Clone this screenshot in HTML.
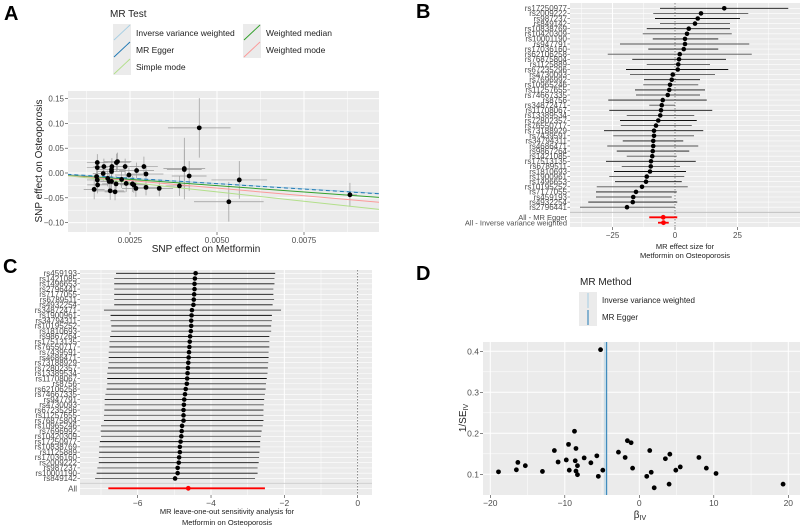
<!DOCTYPE html>
<html><head><meta charset="utf-8"><style>
html,body{margin:0;padding:0;background:#fff;}
svg{display:block;font-family:"Liberation Sans",sans-serif;}
</style></head><body>
<svg id="fig" width="800" height="527" viewBox="0 0 800 527" xmlns="http://www.w3.org/2000/svg"></svg>
<script>
// ---- Panel A data ----
const aX=[0.00156,0.00156,0.00154,0.00156,0.00157,0.00147,0.00175,0.00173,0.00186,0.00197,0.00197,0.00198,0.0019,0.00193,0.00197,0.00211,0.00214,0.00207,0.0021,0.00226,0.00236,0.00239,0.00247,0.00257,0.00261,0.00267,0.00269,0.0029,0.00296,0.00296,0.00334,0.00392,0.00406,0.00406,0.0042,0.00449,0.00534,0.00564,0.00882];
const aY=[0.021,0.011,-0.007,-0.014,-0.024,-0.033,0.013,-0.001,-0.011,0.007,0.003,0.013,-0.017,-0.036,-0.017,0.021,0.023,-0.038,-0.022,-0.013,0.013,-0.021,-0.004,-0.022,-0.024,-0.031,0.005,0.013,-0.002,-0.029,-0.031,-0.026,0.009,0.007,-0.006,0.091,-0.058,-0.014,-0.044];
const aSeX=[0.0003,0.0003,0.0003,0.0003,0.0003,0.0003,0.0003,0.0003,0.0004,0.0004,0.0004,0.0004,0.0003,0.0004,0.0003,0.0004,0.0004,0.0003,0.0004,0.0004,0.0004,0.0004,0.0004,0.0004,0.0004,0.0004,0.0005,0.0004,0.0005,0.0004,0.0004,0.0004,0.0006,0.0005,0.0005,0.0009,0.001,0.0008,0.0002];
const aSeY=[0.017,0.016,0.015,0.016,0.017,0.02,0.016,0.015,0.016,0.017,0.015,0.017,0.016,0.018,0.015,0.018,0.018,0.017,0.016,0.017,0.016,0.017,0.015,0.016,0.016,0.017,0.016,0.02,0.017,0.016,0.016,0.02,0.062,0.04,0.03,0.06,0.04,0.038,0.024];
const aMethods=["Inverse variance weighted","MR Egger","Simple mode","Weighted median","Weighted mode"];
const aSlopes=[-4.25,-4.4,-7.6,-5.1,-6.1];
const aIntercepts=[0,0.0005,0,0,0];
const aColors=["#A6CEE3","#1F78B4","#B2DF8A","#33A02C","#FB9A99"];
const aXTicks=[0.0025,0.005,0.0075];
const aXTickLabels=["0.0025","0.0050","0.0075"];
const aYTicks=[-0.1,-0.05,0,0.05,0.1,0.15];
const aYTickLabels=["-0.10","-0.05","0.00","0.05","0.10","0.15"];

// ---- Panel B data ----
const bLabels=["rs17250977","rs2009222","rs987237","rs849142","rs10838769","rs10420309","rs10001190","rs947791","rs17036160","rs62106258","rs76875804","rs1125889","rs67235296","rs4730093","rs7696992","rs10965246","rs11257655","rs74667335","rs8756","rs34872471","rs11708067","rs13389534","rs72802357","rs76550717","rs73188929","rs7439591","rs34794311","rs4686471","rs9867264","rs1421085","rs17513135","rs6789511","rs1810693","rs1900961","rs1496653","rs10195252","rs7177055","rs459193","rs4932254","rs2796441"];
const bEst=[19.7,10.4,9.1,8,5.5,4.8,4,4,3.5,1.9,1.6,1.3,1.1,-0.9,-1.3,-2,-2.3,-2.9,-4.9,-5.3,-5.6,-5.9,-6.7,-7.6,-8.4,-8.4,-8.7,-8.7,-8.9,-9.1,-9.6,-9.7,-10,-11.3,-11.6,-13.2,-15.6,-16.7,-16.9,-19.2];
const bLo=[-6,-8.7,-8,-6,-11.3,-12.9,-8.9,-22,-10.7,-26.9,-17.1,-11.3,-19.6,-18,-12.4,-12.7,-16,-15.6,-26.7,-10.3,-26.3,-19.3,-22,-21.7,-28.4,-24.7,-20.9,-27.1,-23.3,-19.3,-27.6,-21.3,-24.4,-26.3,-24,-31.3,-31.6,-31.6,-34.7,-38];
const bHi=[45.3,29.3,26,22,22,22.7,17.3,29.7,17.3,30.7,20.4,14,21.3,16,10,9.3,12,10,12.7,0,14.9,7.7,8.7,6.7,11.3,7.6,3.3,9.3,5.7,0.7,8.3,2,4.4,3.7,2.7,5.1,0.7,-1.3,0.9,0];
const bSumLabels=["All - MR Egger","All - Inverse variance weighted"];
const bSumEst=[-4.7,-4.6];
const bSumLo=[-10.3,-6.8];
const bSumHi=[0.9,-2.5];
const bTicks=[-25,0,25];
const bTickLabels=["-25","0","25"];

// ---- Panel C data ----
const cLabels=["rs459193","rs1421085","rs1496653","rs2796441","rs7177055","rs6789511","rs4932254","rs34872471","rs1900961","rs34794311","rs10195252","rs1810693","rs9867264","rs17513135","rs76550717","rs7439591","rs4686471","rs73188929","rs72802357","rs13389534","rs11708067","rs8756","rs62106258","rs74667335","rs947791","rs4730093","rs67235296","rs11257655","rs76875804","rs10965246","rs7696992","rs10420309","rs17250977","rs10838769","rs1125889","rs17036160","rs2009222","rs987237","rs10001190","rs849142"];
const cEst=[-4.42,-4.44,-4.45,-4.45,-4.46,-4.47,-4.48,-4.52,-4.53,-4.54,-4.54,-4.55,-4.57,-4.58,-4.59,-4.6,-4.61,-4.62,-4.63,-4.64,-4.65,-4.66,-4.69,-4.71,-4.73,-4.74,-4.75,-4.75,-4.75,-4.79,-4.8,-4.81,-4.83,-4.85,-4.85,-4.87,-4.88,-4.91,-4.91,-4.98];
const cLo=[-6.59,-6.64,-6.64,-6.64,-6.64,-6.64,-6.64,-6.92,-6.74,-6.74,-6.72,-6.72,-6.75,-6.77,-6.77,-6.79,-6.79,-6.79,-6.81,-6.83,-6.83,-6.83,-6.85,-6.88,-6.9,-6.9,-6.91,-6.92,-6.92,-7.0,-7.01,-7.0,-7.03,-7.05,-7.05,-7.06,-7.06,-7.1,-7.12,-7.16];
const cHi=[-2.25,-2.27,-2.27,-2.3,-2.3,-2.28,-2.32,-2.09,-2.34,-2.34,-2.36,-2.36,-2.41,-2.41,-2.41,-2.43,-2.43,-2.44,-2.45,-2.46,-2.48,-2.5,-2.51,-2.53,-2.55,-2.56,-2.57,-2.57,-2.57,-2.59,-2.62,-2.64,-2.66,-2.66,-2.68,-2.69,-2.7,-2.73,-2.73,-2.8];
const cAllEst=[-4.62];
const cAllLo=[-6.8];
const cAllHi=[-2.53];
const cTicks=[-6,-4,-2,0];
const cTickLabels=["-6","-4","-2","0"];

// ---- Panel D data ----
const dBeta=[-18.9,-16.5,-16.3,-15.3,-13.0,-11.4,-10.9,-9.8,-9.5,-9.4,-8.7,-8.6,-8.5,-8.5,-8.3,-8.3,-7.4,-6.5,-5.7,-5.5,-5.2,-4.9,-2.8,-1.9,-1.6,-1.1,-0.9,1.0,1.4,1.6,2.0,3.5,4.0,4.1,4.9,5.5,8.0,9.0,10.3,19.3];
const dInvSe=[0.106,0.111,0.129,0.121,0.107,0.158,0.130,0.135,0.173,0.110,0.205,0.133,0.163,0.108,0.121,0.099,0.140,0.128,0.145,0.095,0.404,0.110,0.154,0.141,0.182,0.177,0.115,0.095,0.158,0.105,0.067,0.138,0.076,0.149,0.110,0.118,0.141,0.115,0.102,0.076];
const dMethods=["Inverse variance weighted","MR Egger"];
const dEstimates=[-4.6,-4.38];
const dColors=["#A6CEE3","#1F78B4"];
const dXTicks=[-20,-10,0,10,20];
const dXTickLabels=["-20","-10","0","10","20"];
const dYTicks=[0.1,0.2,0.3,0.4];
const dYTickLabels=["0.1","0.2","0.3","0.4"];

const NS="http://www.w3.org/2000/svg";
const svg=document.getElementById('fig');
function mk(tag,attrs,parent){const e=document.createElementNS(NS,tag);for(const k in attrs)e.setAttribute(k,attrs[k]);(parent||svg).appendChild(e);return e;}
function txt(s,attrs,parent){const e=mk('text',attrs,parent);e.textContent=s;return e;}
const TICKC="#4D4D4D";

// ================= Panel A =================
const A=mk('g',{});


const aL=68,aR=379,aT=91,aB=232;
const xA=v=>130+(v-0.0025)/0.0025*87;
const yA=v=>173-v/0.05*24.8;
let e=txt('A',{x:4,y:20,'font-size':20,'font-weight':'bold',fill:'#000'},A);


// legend
e=txt('MR Test',{x:110,y:17,'font-size':10,fill:'#222'},A);


const legPos=[[113,24],[113,41],[113,58],[243,24],[243,41]];
aMethods.forEach((m,i)=>{
  const g=mk('g',{},A);
  
  
  const [lx,ly]=legPos[i];
  mk('rect',{x:lx,y:ly,width:18,height:17,fill:'#EBEBEB'},g);
  mk('line',{x1:lx+1,y1:ly+16,x2:lx+17,y2:ly+1,stroke:aColors[i],'stroke-width':1},g);
  txt(m,{x:lx+23,y:ly+12,'font-size':8.5,fill:'#222'},g);
});
const aBg=mk('rect',{x:aL,y:aT,width:aR-aL,height:aB-aT,fill:'#EBEBEB'},A);


[0.00125,0.00375,0.00625,0.00875].forEach(v=>mk('line',{x1:xA(v),x2:xA(v),y1:aT,y2:aB,stroke:'#fff','stroke-width':0.5},A));
[-0.075,-0.025,0.025,0.075,0.125].forEach(v=>mk('line',{x1:aL,x2:aR,y1:yA(v),y2:yA(v),stroke:'#fff','stroke-width':0.5},A));
aXTicks.forEach((v,i)=>{mk('line',{x1:xA(v),x2:xA(v),y1:aT,y2:aB,stroke:'#fff','stroke-width':1},A);
  mk('line',{x1:xA(v),x2:xA(v),y1:aB,y2:aB+3,stroke:'#333','stroke-width':0.6},A);
  const t=txt(aXTickLabels[i],{x:xA(v),y:aB+11,'font-size':8,fill:TICKC,'text-anchor':'middle'},A);
  
  });
aYTicks.forEach((v,i)=>{mk('line',{x1:aL,x2:aR,y1:yA(v),y2:yA(v),stroke:'#fff','stroke-width':1},A);
  mk('line',{x1:aL-3,x2:aL,y1:yA(v),y2:yA(v),stroke:'#333','stroke-width':0.6},A);
  const t=txt(aYTickLabels[i].replace('-','\u2212'),{x:aL-4,y:yA(v)+3,'font-size':8,fill:TICKC,'text-anchor':'end'},A);
  
  });
const aClip=mk('clipPath',{id:'clipA'},A);mk('rect',{x:aL,y:aT,width:aR-aL,height:aB-aT},aClip);
const aP=mk('g',{'clip-path':'url(#clipA)'},A);
aX.forEach((x,i)=>{
  const l1=mk('line',{x1:xA(x),x2:xA(x),y1:yA(aY[i]-aSeY[i]),y2:yA(aY[i]+aSeY[i]),stroke:'#999','stroke-width':0.7},aP);
  
  
  const l2=mk('line',{x1:xA(x-aSeX[i]),x2:xA(x+aSeX[i]),y1:yA(aY[i]),y2:yA(aY[i]),stroke:'#999','stroke-width':0.7},aP);
  
  
});
const x0=0.0007,x1=0.0097;
[2,4,3,0,1].forEach(i=>{
  const l=mk('line',{x1:xA(x0),x2:xA(x1),y1:yA(aIntercepts[i]+aSlopes[i]*x0),y2:yA(aIntercepts[i]+aSlopes[i]*x1),stroke:aColors[i],'stroke-width':1,'stroke-dasharray':i==1?'4,3':'none'},aP);
  
  
});
aX.forEach((x,i)=>{const c=mk('circle',{cx:xA(x),cy:yA(aY[i]),r:2.4,fill:'#000'},aP);
  
  });
e=txt('SNP effect on Metformin',{x:206,y:252,'font-size':10,fill:'#222','text-anchor':'middle'},A);


e=txt('SNP effect on Osteoporosis',{x:0,y:0,'font-size':10,fill:'#222','text-anchor':'middle',transform:'translate(42,161) rotate(-90)'},A);



// ================= Panel B =================
const B=mk('g',{});


const bL=570,bR=800,bT=3,bB=227;
const xB=v=>675+v*2.5;
const rowB=i=>8.3+i*5.1;
const bSumY=[217.3,222.7];
e=txt('B',{x:416,y:18,'font-size':20,'font-weight':'bold',fill:'#000'},B);


e=mk('rect',{x:bL,y:bT,width:bR-bL,height:bB-bT,fill:'#EBEBEB'},B);


[-37.5,-12.5,12.5,37.5].forEach(v=>mk('line',{x1:xB(v),x2:xB(v),y1:bT,y2:bB,stroke:'#fff','stroke-width':0.5},B));
bLabels.forEach((s,i)=>mk('line',{x1:bL,x2:bR,y1:rowB(i),y2:rowB(i),stroke:'#fff','stroke-width':0.6},B));
bSumY.forEach(y=>mk('line',{x1:bL,x2:bR,y1:y,y2:y,stroke:'#fff','stroke-width':0.6},B));
bTicks.forEach((v,i)=>{mk('line',{x1:xB(v),x2:xB(v),y1:bT,y2:bB,stroke:'#fff','stroke-width':1},B);
  mk('line',{x1:xB(v),x2:xB(v),y1:bB,y2:bB+3,stroke:'#333','stroke-width':0.6},B);
  const t=txt(bTickLabels[i].replace('-','\u2212'),{x:xB(v),y:bB+11,'font-size':8,fill:TICKC,'text-anchor':'middle'},B);
  
  });
mk('line',{x1:bL,x2:bR,y1:212.3,y2:212.3,stroke:'#bbb','stroke-width':0.8},B);
mk('line',{x1:xB(0),x2:xB(0),y1:bT,y2:bB,stroke:'#555','stroke-width':0.7,'stroke-dasharray':'1.5,1.5'},B);
bLabels.forEach((s,i)=>{
  const t=txt(s,{x:567,y:rowB(i)+2.8,'font-size':8,fill:TICKC,'text-anchor':'end'},B);
  
  
  mk('line',{x1:567.5,x2:570,y1:rowB(i),y2:rowB(i),stroke:'#333','stroke-width':0.5},B);
  const l=mk('line',{x1:xB(bLo[i]),x2:xB(Math.min(bHi[i],50)),y1:rowB(i),y2:rowB(i),stroke:i%2?'#555':'#111','stroke-width':0.9},B);
  
  
  const c=mk('circle',{cx:xB(bEst[i]),cy:rowB(i),r:2.3,fill:'#000'},B);
  
  
});
bSumLabels.forEach((s,i)=>{
  const y=bSumY[i];
  const t=txt(s,{x:567,y:y+2.8,'font-size':7.5,fill:TICKC,'text-anchor':'end'},B);
  
  
  const l=mk('line',{x1:xB(bSumLo[i]),x2:xB(bSumHi[i]),y1:y,y2:y,stroke:'#f00','stroke-width':1.8},B);
  
  
  const c=mk('circle',{cx:xB(bSumEst[i]),cy:y,r:2.4,fill:'#f00'},B);
  
  
});
e=txt('MR effect size for',{x:685,y:249,'font-size':7.5,fill:'#222','text-anchor':'middle'},B);


e=txt('Metformin  on Osteoporosis',{x:685,y:258,'font-size':7.5,fill:'#222','text-anchor':'middle'},B);



// ================= Panel C =================
const C=mk('g',{});


const cL=80,cR=372,cT=270,cB=495;
const xC=v=>357.7+v*36.67;
const rowC=i=>273.3+i*5.26;
const cAllY=488.3;
e=txt('C',{x:3,y:273,'font-size':20,'font-weight':'bold',fill:'#000'},C);


e=mk('rect',{x:cL,y:cT,width:cR-cL,height:cB-cT,fill:'#EBEBEB'},C);


[-7,-5,-3,-1].forEach(v=>mk('line',{x1:xC(v),x2:xC(v),y1:cT,y2:cB,stroke:'#fff','stroke-width':0.5},C));
cLabels.forEach((s,i)=>mk('line',{x1:cL,x2:cR,y1:rowC(i),y2:rowC(i),stroke:'#fff','stroke-width':0.6},C));
mk('line',{x1:cL,x2:cR,y1:cAllY,y2:cAllY,stroke:'#fff','stroke-width':0.6},C);
cTicks.forEach((v,i)=>{mk('line',{x1:xC(v),x2:xC(v),y1:cT,y2:cB,stroke:'#fff','stroke-width':1},C);
  mk('line',{x1:xC(v),x2:xC(v),y1:cB,y2:cB+3,stroke:'#333','stroke-width':0.6},C);
  const t=txt(cTickLabels[i].replace('-','\u2212'),{x:xC(v),y:cB+11,'font-size':8.5,fill:TICKC,'text-anchor':'middle'},C);
  
  });
mk('line',{x1:cL,x2:cR,y1:483.3,y2:483.3,stroke:'#ccc','stroke-width':0.8},C);
mk('line',{x1:xC(0),x2:xC(0),y1:cT,y2:cB,stroke:'#555','stroke-width':0.7,'stroke-dasharray':'1.5,1.5'},C);
cLabels.forEach((s,i)=>{
  const t=txt(s,{x:77,y:rowC(i)+2.8,'font-size':8,fill:TICKC,'text-anchor':'end'},C);
  
  
  mk('line',{x1:77.5,x2:80,y1:rowC(i),y2:rowC(i),stroke:'#333','stroke-width':0.5},C);
  const l=mk('line',{x1:xC(cLo[i]),x2:xC(cHi[i]),y1:rowC(i),y2:rowC(i),stroke:i%2?'#555':'#111','stroke-width':0.9},C);
  
  
  const c=mk('circle',{cx:xC(cEst[i]),cy:rowC(i),r:2.3,fill:'#000'},C);
  
  
});
e=txt('All',{x:77,y:cAllY+3,'font-size':8,fill:TICKC,'text-anchor':'end'},C);


e=mk('line',{x1:xC(cAllLo[0]),x2:xC(cAllHi[0]),y1:cAllY,y2:cAllY,stroke:'#f00','stroke-width':1.8},C);


e=mk('circle',{cx:xC(cAllEst[0]),cy:cAllY,r:2.4,fill:'#f00'},C);


e=txt('MR leave-one-out sensitivity analysis for',{x:227,y:514,'font-size':7.5,fill:'#222','text-anchor':'middle'},C);


e=txt('Metformin  on Osteoporosis',{x:227,y:525,'font-size':7.5,fill:'#222','text-anchor':'middle'},C);



// ================= Panel D =================
const D=mk('g',{});


const dL=483,dR=800,dT=342,dB=495;
const xD=v=>639.3+v*7.45;
const yD=v=>474.3-(v-0.1)*410;
e=txt('D',{x:416,y:280,'font-size':20,'font-weight':'bold',fill:'#000'},D);


e=txt('MR Method',{x:580,y:285,'font-size':10,fill:'#222'},D);


dMethods.forEach((m,i)=>{
  const g=mk('g',{},D);
  
  
  const ly=292+i*17;
  mk('rect',{x:579,y:ly,width:18,height:17,fill:'#EBEBEB'},g);
  mk('line',{x1:588,x2:588,y1:ly+1,y2:ly+16,stroke:dColors[i],'stroke-width':1},g);
  txt(m,{x:602,y:ly+11,'font-size':8,fill:'#222'},g);
});
e=mk('rect',{x:dL,y:dT,width:dR-dL,height:dB-dT,fill:'#EBEBEB'},D);


[-15,-5,5,15].forEach(v=>mk('line',{x1:xD(v),x2:xD(v),y1:dT,y2:dB,stroke:'#fff','stroke-width':0.5},D));
[0.15,0.25,0.35].forEach(v=>mk('line',{x1:dL,x2:dR,y1:yD(v),y2:yD(v),stroke:'#fff','stroke-width':0.5},D));
dXTicks.forEach((v,i)=>{mk('line',{x1:xD(v),x2:xD(v),y1:dT,y2:dB,stroke:'#fff','stroke-width':1},D);
  mk('line',{x1:xD(v),x2:xD(v),y1:dB,y2:dB+3,stroke:'#333','stroke-width':0.6},D);
  const t=txt(dXTickLabels[i].replace('-','\u2212'),{x:xD(v),y:dB+11,'font-size':8.5,fill:TICKC,'text-anchor':'middle'},D);
  
  });
dYTicks.forEach((v,i)=>{mk('line',{x1:dL,x2:dR,y1:yD(v),y2:yD(v),stroke:'#fff','stroke-width':1},D);
  mk('line',{x1:dL-3,x2:dL,y1:yD(v),y2:yD(v),stroke:'#333','stroke-width':0.6},D);
  const t=txt(dYTickLabels[i],{x:dL-4,y:yD(v)+3,'font-size':8.5,fill:TICKC,'text-anchor':'end'},D);
  
  });
dEstimates.forEach((v,i)=>{const l=mk('line',{x1:xD(v),x2:xD(v),y1:dT,y2:dB,stroke:dColors[i],'stroke-width':1},D);
  
  });
dBeta.forEach((b,i)=>{const c=mk('circle',{cx:xD(b),cy:yD(dInvSe[i]),r:2.4,fill:'#000'},D);
  
  });
e=txt('',{x:640,y:518,'font-size':10,fill:'#222','text-anchor':'middle'},D);
e.innerHTML='β<tspan font-size="7" dy="2">IV</tspan>';


e=txt('',{x:0,y:0,'font-size':10,fill:'#222','text-anchor':'middle',transform:'translate(466,418) rotate(-90)'},D);
e.innerHTML='1/SE<tspan font-size="7" dy="2">IV</tspan>';


</script>
</body></html>
